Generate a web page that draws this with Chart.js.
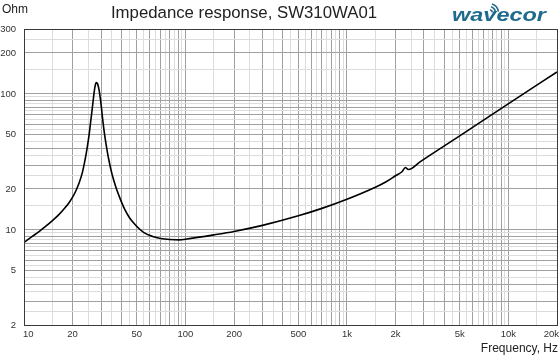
<!DOCTYPE html>
<html><head><meta charset="utf-8">
<script src="https://cdn.jsdelivr.net/npm/chart.js@4/dist/chart.umd.min.js"></script>
<style>html,body{margin:0;padding:0;background:#fff;}#wrap{width:560px;height:357px;position:relative;}</style>
</head><body><div id="wrap"><canvas id="c" width="560" height="357"></canvas></div>
<script>
// ---- data ----
const freqHz = [10, 11.3, 12.5, 13.6, 15, 16.5, 18, 19, 20, 21, 22, 23, 23.8, 24.6, 25.3, 25.9, 26.6, 27.2, 27.6, 28.0, 28.6, 29.2, 30.0, 30.8, 31.5, 32.2, 33.4, 35, 37, 39, 42, 45, 50, 55, 62.6, 70, 80, 92, 100, 150, 200, 300, 500, 700, 1000, 1500, 1750, 2000, 2200, 2300, 2400, 2850, 3500, 5050, 10250, 20000];
const impedanceOhm = [8.1, 8.99, 9.81, 10.6, 11.7, 13.0, 14.6, 15.85, 17.4, 19.5, 22.3, 26.5, 32, 40, 50, 63, 82, 103, 115, 121, 118, 106, 84, 63, 51, 43, 33.5, 26, 20.8, 17.5, 14.2, 12.3, 10.6, 9.6, 8.95, 8.65, 8.5, 8.45, 8.55, 9.2, 9.75, 10.8, 12.7, 14.4, 16.8, 20.6, 22.6, 25.0, 26.9, 28.8, 27.8, 31.8, 37.3, 49.6, 86.2, 145];
const xLabelValues = [10, 20, 50, 100, 200, 500, 1000, 2000, 5000, 10000, 20000];
const xLabelTexts = ['10', '20', '50', '100', '200', '500', '1k', '2k', '5k', '10k', '20k'];
const yLabelValues = [2, 5, 10, 20, 50, 100, 200, 300];
const gridMultipliers = [1, 1.5, 2, 2.5, 3, 3.5, 4, 4.5, 5, 5.5, 6, 6.5, 7, 7.5, 8, 8.5, 9, 9.5];
const titleText = 'Impedance response, SW310WA01';
const yAxisTitle = 'Ohm';
const xAxisTitle = 'Frequency, Hz';
const logoText = 'wavecor';

const FONT = '"Liberation Sans", Arial, sans-serif';
Chart.defaults.font.family = FONT;

function gridValues(min, max) {
  const out = [];
  for (let d = 1; d <= 100000; d *= 10) {
    for (const m of gridMultipliers) {
      const v = +(m * d).toPrecision(6);
      if (v >= min - 1e-9 && v <= max + 1e-9) out.push(v);
    }
  }
  if (!out.includes(max)) out.push(max);
  return out;
}
function isMajor(v) {
  const e = Math.floor(Math.log10(v) + 1e-9);
  const m = v / Math.pow(10, e);
  return Math.abs(m - Math.round(m)) < 1e-6;
}
const majorColor = '#a0a0a0';
const minorColor = '#dcdcdc';

const points = freqHz.map((f, i) => ({ x: f, y: impedanceOhm[i] }));

const decor = {
  id: 'decor',
  afterDraw(chart) {
    const ctx = chart.ctx;
    const a = chart.chartArea;
    const xs = chart.scales.x;
    ctx.save();
    ctx.strokeStyle = '#3a3a3a';
    ctx.lineWidth = 1;
    ctx.strokeRect(Math.round(a.left) + 0.5, Math.round(a.top) + 0.5, Math.round(a.right - a.left), Math.round(a.bottom - a.top));
    ctx.fillStyle = '#333';
    ctx.font = '9.5px ' + FONT;
    ctx.textBaseline = 'middle';
    ctx.textAlign = 'left';
    xLabelValues.forEach((v, i) => {
      const t = xLabelTexts[i];
      const w = ctx.measureText(t).width;
      let px = xs.getPixelForValue(v) - w / 2;
      px = Math.max(px, a.left - 1);
      px = Math.min(px, 559 - w);
      ctx.fillText(t, px, a.bottom + 9.5);
    });
    ctx.fillStyle = '#222';
    ctx.font = '12px ' + FONT;
    ctx.textBaseline = 'alphabetic';
    ctx.textAlign = 'left';
    ctx.fillText(yAxisTitle, 2, 13);
    ctx.textAlign = 'right';
    ctx.fillText(xAxisTitle, 558, 352);
    ctx.font = '16.8px ' + FONT;
    ctx.textAlign = 'center';
    ctx.fillText(titleText, 244, 18);
    ctx.fillStyle = '#1f6b8e';
    ctx.strokeStyle = '#1f6b8e';
    ctx.font = 'italic bold 18px ' + FONT;
    ctx.textAlign = 'left';
    const lw = ctx.measureText(logoText).width;
    ctx.save();
    ctx.translate(452, 21);
    ctx.scale(94 / lw, 1);
    ctx.fillText(logoText, 0, 0);
    ctx.restore();
    ctx.lineWidth = 1.6;
    [3.5, 6.5, 9.5].forEach(r => {
      ctx.beginPath();
      ctx.arc(489, 13, r, -1.25, -0.15);
      ctx.stroke();
    });
    ctx.restore();
  }
};

new Chart(document.getElementById('c'), {
  type: 'line',
  data: {
    datasets: [{
      data: points,
      borderColor: '#000',
      borderWidth: 1.6,
      pointRadius: 0,
      fill: false,
      cubicInterpolationMode: 'monotone'
    }]
  },
  options: {
    responsive: false,
    animation: false,
    devicePixelRatio: 1,
    layout: { padding: { top: 29, right: 3, left: 0, bottom: 0 } },
    plugins: { legend: { display: false }, tooltip: { enabled: false }, title: { display: false } },
    scales: {
      x: {
        type: 'logarithmic',
        min: 10, max: 20000,
        afterBuildTicks(s) { s.ticks = gridValues(10, 20000).map(v => ({ value: v })); },
        afterFit(s) { s.height = 32; s.paddingLeft = 0; s.paddingRight = 0; },
        ticks: { display: false, autoSkip: false },
        grid: {
          drawTicks: false,
          color: c => isMajor(c.tick.value) ? majorColor : minorColor,
          lineWidth: 1
        },
        border: { display: true, color: '#333', width: 1 }
      },
      y: {
        type: 'logarithmic',
        min: 2, max: 300,
        afterBuildTicks(s) { s.ticks = gridValues(2, 300).map(v => ({ value: v })); },
        afterFit(s) { s.width = 24; s.paddingTop = 0; s.paddingBottom = 0; },
        ticks: {
          autoSkip: false,
          padding: 8,
          color: '#333',
          font: { size: 9.5 },
          callback: v => yLabelValues.includes(+(+v).toPrecision(6)) ? String(v) : ''
        },
        grid: {
          drawTicks: false,
          color: c => isMajor(c.tick.value) ? majorColor : minorColor,
          lineWidth: 1
        },
        border: { display: true, color: '#333', width: 1 }
      }
    }
  },
  plugins: [decor]
});
</script>
</body></html>
